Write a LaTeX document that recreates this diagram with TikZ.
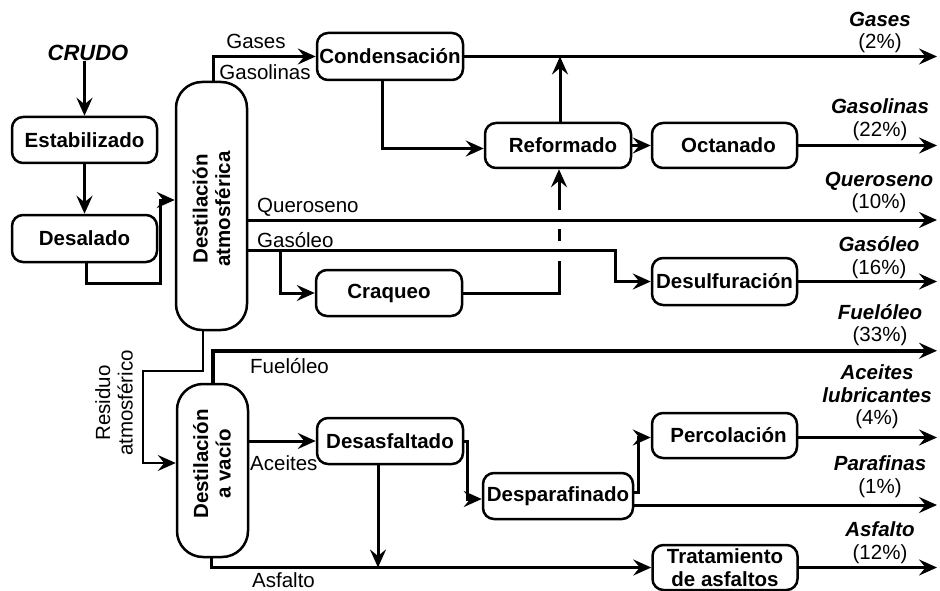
\documentclass[tikz,border=0pt]{standalone}
\usepackage{fontspec}
\setmainfont{Liberation Sans}
\usetikzlibrary{arrows.meta}
\begin{document}
\begin{tikzpicture}[x=1pt,y=-1pt,
  txt/.style={font=\fontsize{20.5}{22.5}\selectfont, inner sep=0pt},
  outlbl/.style={txt, align=center},
  proc/.style={draw, line width=2.5pt, rounded corners=11pt,
    minimum width=145pt, minimum height=46pt, inner sep=0pt, align=center,
    font=\bfseries\fontsize{20.5}{22.5}\selectfont},
  column/.style={draw, line width=2.5pt, rounded corners=26pt,
    minimum width=71pt, inner sep=0pt},
  coltext/.style={rotate=90, align=center, inner sep=0pt,
    font=\bfseries\fontsize{20.5}{22.5}\selectfont},
  flowline/.style={line width=3pt},
  flow/.style={flowline, -{Stealth[length=18pt,width=16pt,inset=6.5pt]}},
]
\useasboundingbox (0,0) rectangle (940,591);

% crude oil preparation
\node[inner sep=0pt, font=\bfseries\itshape\fontsize{22}{24}\selectfont] (crudo) at (88,53) {CRUDO};
\node[proc] (estab) at (84.5,140) {Estabilizado};
\node[proc, minimum height=47pt] (desal) at (84.5,238.5) {Desalado};

% distillation columns
\node[column, minimum height=248pt] (datm) at (211.5,206) {};
\node[coltext] (datmtxt) at (211.5,209) {Destilación\\atmosférica};
\node[column, minimum height=173pt] (dvac) at (212.5,470.5) {};
\node[coltext] (dvactxt) at (212,464) {Destilación\\a vacío};

% light products
\node[proc, minimum width=146pt, minimum height=47pt] (cond) at (390,56.5) {Condensación};
\node[proc, minimum width=146pt, minimum height=45pt] (refor) at (558,145.5) {\hspace*{10pt}Reformado};
\node[proc, minimum height=45pt] (octa) at (724.5,145.5) {\hspace*{8pt}Octanado};
\node[proc, minimum width=146pt] (craq) at (389,293) {Craqueo};
\node[proc, minimum height=47pt] (desulf) at (724.5,281.5) {Desulfuración};

% heavy products
\node[proc, minimum width=146pt] (desasf) at (390,441) {Desasfaltado};
\node[proc, minimum width=150pt] (despar) at (558,496) {Desparafinado};
\node[proc, minimum height=45pt] (perco) at (724.5,435.5) {\hspace*{8pt}Percolación};
\node[proc, minimum height=45pt] (trat) at (725,567.5) {Tratamiento\\de asfaltos};

\coordinate (outx) at (937,0);

% feed line
\draw[flow] (estab.north |- crudo.south) -- ++(0,6) -- (estab.north);
\draw[flow] (estab.south) -- (desal.north);
\coordinate (datmin) at ([yshift=6pt]datm.west);
\draw[flow] ([xshift=1.5pt]desal.south) -- ++(0,20) -| ([xshift=-14pt]datmin) -- (datmin);

% atmospheric column outputs
\draw[flow] ([xshift=1.5pt]datm.north) |- (cond.west);
\node[txt] (lgases) at (256,41) {Gases};
\node[txt] (lgasol) at (265,72) {Gasolinas};

\draw[flow] (cond.east) -- (cond.east -| outx);
\draw[flow] ([xshift=-8pt]cond.south) |- ([yshift=-3pt]refor.west);
\draw[flow] ([xshift=2pt]refor.north) -- ([xshift=2pt]refor.north |- cond.east);
\draw[flow] (refor.east) -- (octa.west);
\draw[flow] (octa.east) -- (octa.east -| outx);

\coordinate (q) at ([yshift=-14pt]datm.east);
\draw[flow] (q) -- (q -| outx);
\node[txt, anchor=west] (lquer) at (257,207) {Queroseno};

\coordinate (g) at ([yshift=-44pt]datm.east);
\draw[flow] (g) -| ([xshift=-35pt]desulf.west) -- (desulf.west);
\node[txt, anchor=west] (lgasoleo) at (257,240) {Gasóleo};
\draw[flow] ([xshift=32pt]g) |- (craq.west);

% cracking feeds the reformer, jumping over the two crossing lines
\coordinate (rb) at ([xshift=1pt]refor.south |- craq.east);
\draw[flowline] (craq.east) -| ([yshift=32pt]rb);
\draw[flowline] ([yshift=52pt]rb) -- ([yshift=64pt]rb);
\draw[flow] ([yshift=83pt]rb) -- ([xshift=1pt]refor.south);

\draw[flow] (desulf.east) -- (desulf.east -| outx);

% atmospheric residue to vacuum column
\coordinate (dvin) at ([yshift=7.5pt]dvac.west);
\draw[flow, line width=2pt] ([xshift=-8.5pt]datm.south) -- ++(0,40) -| ([xshift=-33pt]dvin) -- (dvin);
\node[txt, rotate=90, align=center] (lresid) at (114,403) {Residuo\\atmosférico};

% vacuum column outputs
\draw[flow, line width=4pt] (dvac.north) -- ++(0,-32) coordinate (f) -- (f -| outx);
\node[txt, anchor=west] (lfuel) at (250,366) {Fuelóleo};

\draw[flow] (desasf.west -| dvac.east) -- (desasf.west);
\node[txt, anchor=west] (lacei) at (250,463) {Aceites};

\draw[flow] ([xshift=-1.5pt]dvac.south) |- (trat.west);
\node[txt, anchor=west] (lasf) at (252,580.5) {Asfalto};

\draw[flow] ([xshift=-12pt]desasf.south) -- ([xshift=-12pt]desasf.south |- trat.west);
\draw[flow] (desasf.east) -- ++(3,0) |- ([yshift=-3pt]despar.west);
\draw[flow] ([yshift=4pt]despar.east) -- ++(4,0) |- ([yshift=-2pt]perco.west);
\draw[flow] ([yshift=-9pt]despar.east) -- ([yshift=-9pt]despar.east -| outx);
\draw[flow] ([yshift=-2pt]perco.east) -- ([yshift=-2pt]perco.east -| outx);
\draw[flow] (trat.east) -- (trat.east -| outx);

% final products
\node[outlbl] (pgases) at (880,32.5) {\textbf{\textit{Gases}}\\(2\%)};
\node[outlbl] (pgasol) at (880,119.5) {\textbf{\textit{Gasolinas}}\\(22\%)};
\node[outlbl] (pquer) at (879,192.5) {\textbf{\textit{Queroseno}}\\(10\%)};
\node[outlbl] (pgasoleo) at (879,257.5) {\textbf{\textit{Gasóleo}}\\(16\%)};
\node[outlbl] (pfuel) at (880,325) {\textbf{\textit{Fuelóleo}}\\(33\%)};
\node[outlbl] (pacei) at (877,397) {\textbf{\textit{Aceites}}\\\textbf{\textit{lubricantes}}\\(4\%)};
\node[outlbl] (ppara) at (880,476.5) {\textbf{\textit{Parafinas}}\\(1\%)};
\node[outlbl] (pasf) at (880,542.5) {\textbf{\textit{Asfalto}}\\(12\%)};
\end{tikzpicture}
\end{document}
